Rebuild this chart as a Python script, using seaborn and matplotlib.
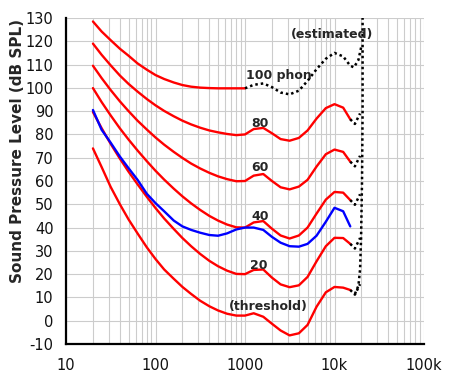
import numpy as np
import pandas as pd
import seaborn as sns
import matplotlib.pyplot as plt

# Equal-loudness contours, values
freq = [20, 25, 31.5, 40, 50, 63, 80, 100, 125, 160, 200, 250, 315, 400, 500,
        630, 800, 1000, 1250, 1600, 2000, 2500, 3150, 4000, 5000, 6300, 8000,
        10000, 12500, 15000]

spl_threshold = [74, 66, 57.5, 50, 43.5, 37.5, 31.5, 26.5, 22, 18, 14.5, 11.5, 8.6, 6.2, 4.4,
                 3.0, 2.2, 2.2, 3.2, 1.7, -1.3, -4.2, -6.3, -5.4, -1.8, 6.0, 12.2,
                 14.5, 14.2, 13.2]
spl_20 = [89.6, 82.7, 76.0, 69.6, 64.0, 58.6, 53.2, 48.4, 43.9, 39.4, 35.5, 32.0, 28.7, 25.7, 23.4,
          21.5, 20.1, 20.0, 21.8, 22.0, 18.5, 15.6, 14.4, 15.2, 18.8, 25.5, 32.0,
          35.6, 35.5, 33.0]
spl_40 = [99.9, 93.9, 88.2, 82.6, 77.8, 73.1, 68.5, 64.4, 60.6, 56.7, 53.4, 50.4, 47.6, 45.0, 43.0,
          41.3, 40.1, 40.0, 42.2, 42.8, 39.5, 36.6, 35.3, 36.6, 40.0, 46.0, 52.0,
          55.3, 55.0, 51.8]
spl_60 = [109.5, 104.2, 99.1, 94.2, 90.0, 85.9, 82.1, 78.7, 75.6, 72.5, 69.9, 67.5, 65.4, 63.5, 62.0,
          60.8, 59.9, 60.0, 62.3, 63.0, 60.0, 57.3, 56.4, 57.6, 60.5, 66.2, 71.5,
          73.5, 72.5, 68.3]
spl_80 = [119.0, 114.2, 109.7, 105.3, 101.7, 98.4, 95.2, 92.5, 90.1, 87.8, 85.9, 84.3, 82.9, 81.7, 80.9,
          80.2, 79.7, 80.0, 82.3, 82.8, 80.5, 78.0, 77.3, 78.5, 81.7, 86.8, 91.3,
          93.0, 91.5, 86.5]
# 100 phon is measured only up to 1 kHz
spl_100 = [128.5, 124.2, 120.5, 116.8, 113.8, 110.5, 107.8, 105.5, 103.8, 102.3, 101.2, 100.5,
           100.1, 99.9, 99.8, 99.8, 99.8, 99.8]

# blue: original ISO 40 phon
spl_orig40 = [90.5, 82, 76.5, 70.5, 65.5, 60.5, 54.5, 50.5, 47, 43, 40.5, 39, 37.8, 36.8, 36.5,
              37.5, 39.2, 40, 40, 39, 36, 33.5, 32, 31.8, 33, 36.5, 42.5,
              48.5, 47, 40.5]

# estimated (dotted) parts
est100_freq = [1000, 1250, 1600, 2000, 2500, 3150, 4000, 5000, 6300, 8000, 10000, 12500,
               15000, 16500, 18500, 20000]
est100_spl = [99.8, 101.3, 101.9, 100.3, 98.0, 97.2, 98.8, 103.0, 108.0, 112.5, 115.0, 113.5,
              109.5, 108.8, 112.0, 118.0]
hook_freq = [15000, 16900, 19300]
edge_freq = [16900, 18500, 19300, 19800, 20300, 20600, 20600]
edge_spl = [11.5, 15, 22, 35, 60, 90, 130]

xticks = [10, 100, 1000, 10000, 100000]
xtick_labels = ['10', '100', '1000', '10k', '100k']
yticks = list(range(-10, 131, 10))

sns.set_style('white')
plt.rcParams['axes.unicode_minus'] = False
fig = plt.figure(figsize=(4.5, 3.77), dpi=100)
ax = fig.add_axes([66 / 450, 33 / 377, 358 / 450, 326 / 377])
ax.set_xscale('log')

dots = (0, (1, 1.2))
red_curves = [spl_threshold, spl_20, spl_40, spl_60, spl_80]
for spl in red_curves:
    sns.lineplot(x=freq, y=spl, color='#ff0000', lw=1.7, ax=ax, sort=False, estimator=None)
    hook = [spl[-1], spl[-1] - 2, spl[-1] + 2.5]
    sns.lineplot(x=hook_freq, y=hook, color='black', lw=1.8, ax=ax, sort=False,
                 estimator=None, linestyle=dots)
sns.lineplot(x=freq[:len(spl_100)], y=spl_100, color='#ff0000', lw=1.7, ax=ax,
             sort=False, estimator=None)
sns.lineplot(x=freq, y=spl_orig40, color='#0000ff', lw=1.7, ax=ax, sort=False, estimator=None)
sns.lineplot(x=est100_freq, y=est100_spl, color='black', lw=1.8, ax=ax, sort=False,
             estimator=None, linestyle=dots)
sns.lineplot(x=edge_freq, y=edge_spl, color='black', lw=1.8, ax=ax, sort=False,
             estimator=None, linestyle=dots)

ax.set_xlim(10, 100000)
ax.set_ylim(-10, 130)
ax.set_xticks(xticks)
ax.set_xticklabels(xtick_labels)
ax.set_yticks(yticks)
ax.grid(True, which='both', color='#cccccc', lw=0.8)
ax.set_axisbelow(True)
ax.tick_params(which='both', length=0, labelsize=10.5, labelcolor='#111111')
ax.tick_params(axis='y', pad=9)
ax.tick_params(axis='x', pad=10)
for side in ['top', 'right']:
    ax.spines[side].set_visible(False)
for side in ['left', 'bottom']:
    ax.spines[side].set_color('black')
    ax.spines[side].set_linewidth(1.6)
ax.set_xlabel('')
ax.set_ylabel('')

fig.text(18 / 450, 1 - 151 / 377, 'Sound Pressure Level (dB SPL)', rotation=90,
         fontweight='bold', fontsize=11, ha='center', va='center')

labels = [('100 phon', 2400, 105.1), ('80', 1470, 84.9), ('60', 1470, 65.6),
          ('40', 1470, 44.7), ('20', 1420, 23.9), ('(threshold)', 1820, 6.3),
          ('(estimated)', 9500, 122.7)]
for txt, fx, fy in labels:
    ax.text(fx, fy, txt, fontsize=9, fontweight='bold', ha='center', va='center')

fig.savefig('out.png', dpi=100)
